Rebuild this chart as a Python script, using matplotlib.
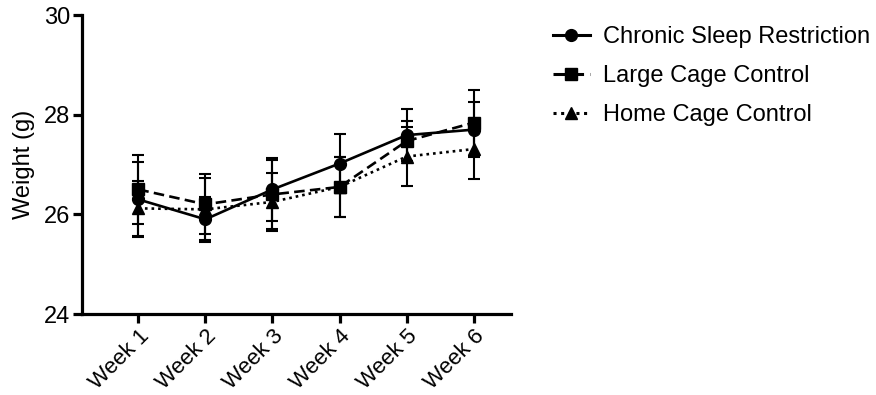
import numpy as np
import matplotlib.pyplot as plt
from matplotlib.lines import Line2D

plt.rcParams['font.family'] = ['Liberation Sans', 'DejaVu Sans']

weeks = ["Week 1", "Week 2", "Week 3", "Week 4", "Week 5", "Week 6"]

csr_mean = [26.30, 25.90, 26.50, 27.02, 27.59, 27.70]
csr_err = [0.75, 0.45, 0.64, 0.60, 0.52, 0.55]

lcc_mean = [26.50, 26.20, 26.40, 26.55, 27.47, 27.84]
lcc_err = [0.69, 0.60, 0.70, 0.60, 0.40, 0.66]

hcc_mean = [26.12, 26.10, 26.25, 26.55, 27.16, 27.31]
hcc_err = [0.55, 0.62, 0.58, 0.60, 0.60, 0.60]

labels = ["Chronic Sleep Restriction", "Large Cage Control", "Home Cage Control"]

fig = plt.figure(figsize=(8.76, 3.95), dpi=100)
ax = fig.add_axes([0.0936, 0.205, 0.49, 0.757])

x = np.arange(len(weeks))
styles = [
    (csr_mean, csr_err, 'o', '-'),
    (lcc_mean, lcc_err, 's', (0, (4, 2))),
    (hcc_mean, hcc_err, '^', (0, (1, 1.5))),
]
handles = []
for (m, e, mk, ls), lab in zip(styles, labels):
    ax.errorbar(x, m, yerr=e, color='black', marker=mk, markersize=8.5,
                linestyle=ls, linewidth=1.9, elinewidth=1.5, capsize=4.5,
                capthick=1.5)
    handles.append(Line2D([], [], color='black', marker=mk, markersize=8.5,
                          linestyle=ls, linewidth=2.2, label=lab))

ax.set_xlim(-0.84, 5.56)
ax.set_ylim(24, 30)
ax.set_yticks([24, 26, 28, 30])
ax.set_xticks(x)
ax.set_xticklabels(weeks, rotation=45, ha='right', rotation_mode='anchor')
ax.set_ylabel("Weight (g)", fontsize=17, labelpad=6)

for s in ['top', 'right']:
    ax.spines[s].set_visible(False)
for s in ['left', 'bottom']:
    ax.spines[s].set_linewidth(2.3)
ax.tick_params(width=2.3, length=6.5, labelsize=17, pad=2)
ax.tick_params(axis='x', labelsize=16)

ax.legend(handles=handles, loc='upper left', bbox_to_anchor=(1.047, 1.033),
          frameon=False, fontsize=17, handlelength=1.57, labelspacing=0.72,
          handletextpad=0.55)

fig.savefig("out.png", dpi=100)
